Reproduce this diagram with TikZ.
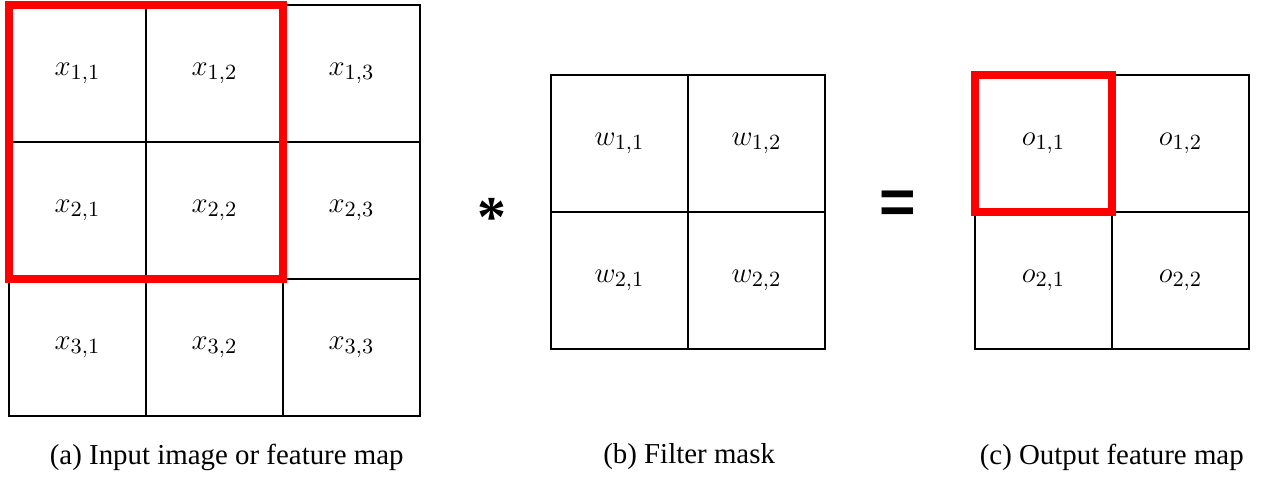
\documentclass[tikz,border=0pt]{standalone}
\usepackage[no-math]{fontspec}
\setmainfont{Liberation Serif}
\newfontfamily\symfont{Liberation Sans}

\tikzset{
  cell/.style={draw, line width=0.8pt, minimum size=2cm, inner sep=0pt, outer sep=0pt, font=\fontsize{13}{15}\selectfont},
  window/.style={draw=red, line width=3.6pt},
  caption/.style={font=\fontsize{12}{14}\selectfont},
  opsign/.style={inner sep=0pt}
}

\begin{document}
\begin{tikzpicture}
    \useasboundingbox (0,0) rectangle (18.438,6.949);
    % Input image or feature map
    \foreach \r in {1,2,3}
      \foreach \c in {1,2,3}
        \node[cell] (x\r\c) at (2*\c-0.869, 7.876-2*\r) {$x_{\r,\c}$};
    \draw[window] (x11.north west) rectangle (x22.south east);
    % Filter mask
    \foreach \r in {1,2}
      \foreach \c in {1,2}
        \node[cell] (w\r\c) at (2*\c+7.044, 6.854-2*\r) {$w_{\r,\c}$};
    % Output feature map
    \foreach \r in {1,2}
      \foreach \c in {1,2}
        \node[cell] (o\r\c) at (2*\c+13.234, 6.854-2*\r) {$o_{\r,\c}$};
    \draw[window] (o11.north west) rectangle (o11.south east);
    % Operators
    \node[opsign, font=\fontsize{24}{24}\selectfont\bfseries] (conv) at (7.18,3.78) {*};
    \node[opsign, font=\fontsize{26}{26}\selectfont\symfont\bfseries] (equal) at (13.11,3.93) {=};
    % Captions
    \node[caption] (capa) at (3.31,0.277) {(a) Input image or feature map};
    \node[caption] (capb) at (10.06,0.277) {(b) Filter mask};
    \node[caption] (capc) at (16.23,0.277) {(c) Output feature map};
\end{tikzpicture}
\end{document}
